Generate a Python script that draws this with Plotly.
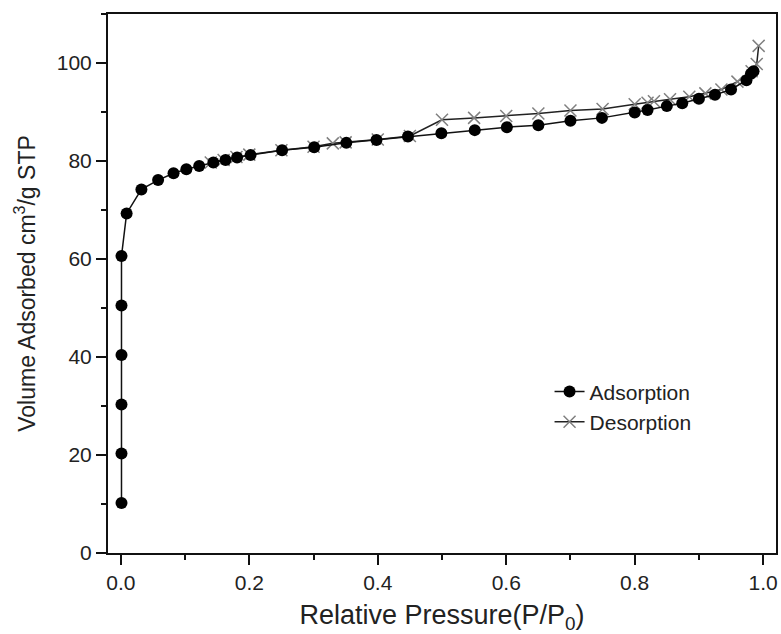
import plotly.graph_objects as go

# Adsorption branch
ads_x = [0.001, 0.001, 0.001, 0.001, 0.001, 0.001, 0.009, 0.032, 0.058, 0.082, 0.102, 0.122,
         0.144, 0.163, 0.181, 0.202, 0.251, 0.301, 0.351, 0.398, 0.447, 0.499, 0.551, 0.601,
         0.650, 0.700, 0.749, 0.800, 0.820, 0.850, 0.874, 0.900, 0.925, 0.950, 0.974, 0.981, 0.985]
ads_y = [10.2, 20.3, 30.3, 40.4, 50.5, 60.6, 69.3, 74.2, 76.1, 77.5, 78.3, 79.0,
         79.7, 80.2, 80.7, 81.2, 82.2, 82.8, 83.7, 84.3, 85.0, 85.65, 86.3, 86.9,
         87.3, 88.2, 88.8, 89.9, 90.4, 91.2, 91.8, 92.7, 93.5, 94.6, 96.5, 97.8, 98.3]

# Desorption branch
des_x = [0.993, 0.990, 0.982, 0.960, 0.935, 0.910, 0.885, 0.855, 0.830, 0.820, 0.800, 0.750,
         0.700, 0.650, 0.600, 0.550, 0.500, 0.450, 0.400, 0.350, 0.330, 0.300, 0.250, 0.200,
         0.180, 0.160, 0.140]
des_y = [103.5, 99.8, 98.3, 96.2, 94.6, 93.8, 93.1, 92.6, 92.2, 91.9, 91.6, 90.6,
         90.3, 89.7, 89.2, 88.8, 88.4, 85.1, 84.4, 83.8, 83.6, 82.9, 82.2, 81.3,
         80.8, 80.2, 79.7]

x_ticks = [0.0, 0.2, 0.4, 0.6, 0.8, 1.0]
x_ticklabels = ["0.0", "0.2", "0.4", "0.6", "0.8", "1.0"]
y_ticks = [0, 20, 40, 60, 80, 100]

FONT = "Liberation Sans, Arial, sans-serif"

fig = go.Figure()

fig.add_trace(go.Scatter(
    x=des_x, y=des_y, mode="lines+markers", name="Desorption",
    line=dict(color="#222222", width=1.5),
    marker=dict(symbol="x-thin", size=12, color="#808080",
                line=dict(color="#808080", width=1.5)),
    legendrank=2,
))
fig.add_trace(go.Scatter(
    x=ads_x, y=ads_y, mode="lines+markers", name="Adsorption",
    line=dict(color="#111111", width=1.5),
    marker=dict(symbol="circle", size=12, color="#000000"),
    legendrank=1,
))

axis_common = dict(
    showline=True, linecolor="#111111", linewidth=2, mirror=True,
    ticks="outside", ticklen=10, tickwidth=1.5, tickcolor="#111111",
    showgrid=False, zeroline=False, automargin=False,
    tickfont=dict(family=FONT, size=21, color="#222222"),
)

fig.update_xaxes(
    range=[-0.02, 1.02], tickvals=x_ticks, ticktext=x_ticklabels,
    minor=dict(ticks="outside", ticklen=5, tickwidth=1.5, tickcolor="#111111", dtick=0.1, tick0=0),
    title=dict(text="Relative Pressure(P/P<sub>0</sub>)",
               font=dict(family=FONT, size=27, color="#222222"),
               standoff=13),
    **axis_common,
)
fig.update_yaxes(
    range=[0, 110], tickvals=y_ticks,
    minor=dict(ticks="outside", ticklen=5, tickwidth=1.5, tickcolor="#111111", dtick=10, tick0=0),
    title=dict(text="Volume Adsorbed cm<sup>3</sup>/g STP",
               font=dict(family=FONT, size=23, color="#222222"),
               standoff=15),
    **axis_common,
)

fig.update_layout(
    width=781, height=634,
    margin=dict(l=108, r=5, t=14, b=81),
    paper_bgcolor="white", plot_bgcolor="white",
    showlegend=True,
    legend=dict(
        x=0.661, y=0.337, xanchor="left", yanchor="top",
        bgcolor="rgba(0,0,0,0)", borderwidth=0,
        font=dict(family=FONT, size=21, color="#222222"),
    ),
)

# Remove the default 8px page margin so the figure fills the window exactly.
fig.write_html(
    "out.html",
    config={"displayModeBar": False},
    post_script="document.body.style.margin='0';document.body.style.overflow='hidden';",
)
